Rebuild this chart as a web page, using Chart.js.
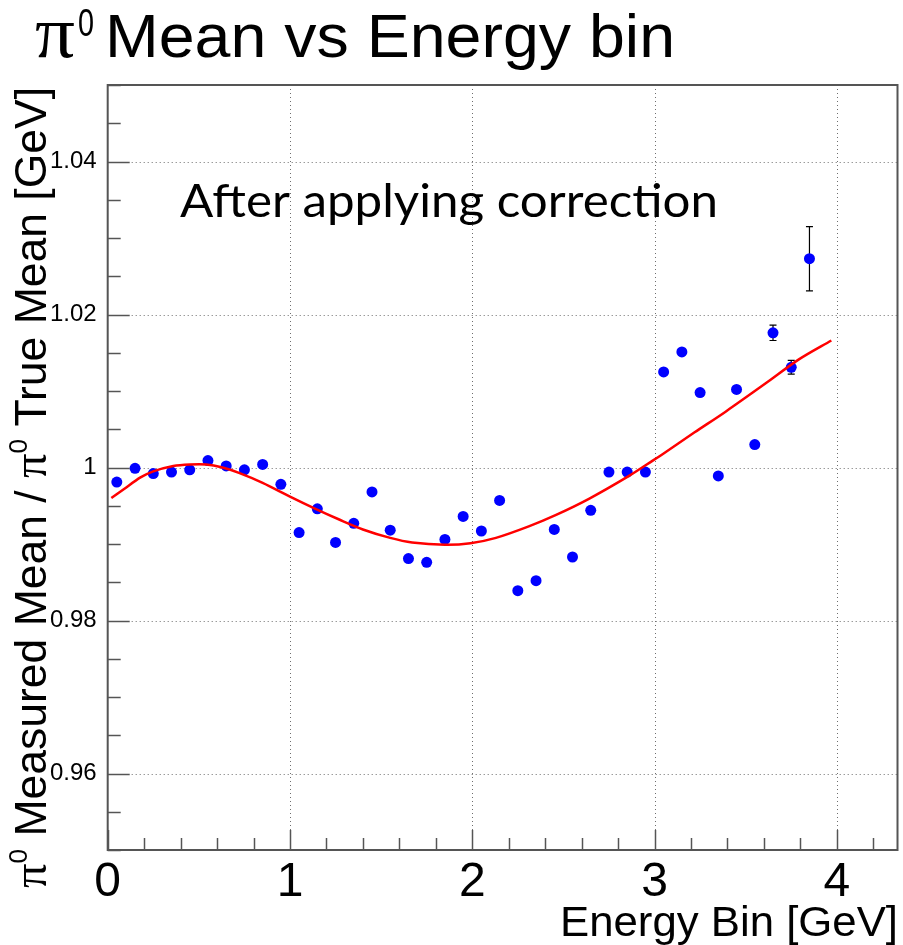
<!DOCTYPE html>
<html>
<head>
<meta charset="utf-8">
<script src="https://cdn.jsdelivr.net/npm/chart.js@4.4.0/dist/chart.umd.min.js"></script>
<style>
  html, body { margin: 0; padding: 0; background: #ffffff; }
  canvas { display: block; }
</style>
</head>
<body>
<canvas id="chart" width="903" height="945"></canvas>
<script>
// Energy bin centres [GeV]
const binCenters = [0.05, 0.15, 0.25, 0.35, 0.45, 0.55, 0.65, 0.75, 0.85, 0.95,
                    1.05, 1.15, 1.25, 1.35, 1.45, 1.55, 1.65, 1.75, 1.85, 1.95,
                    2.05, 2.15, 2.25, 2.35, 2.45, 2.55, 2.65, 2.75, 2.85, 2.95,
                    3.05, 3.15, 3.25, 3.35, 3.45, 3.55, 3.65, 3.75, 3.85];
// Measured mean / true mean per bin
const meanRatio = [0.9981, 0.9999, 0.9992, 0.9994, 0.9997, 1.0009, 1.0002, 0.9997, 1.0004, 0.9978,
                   0.9915, 0.9946, 0.9902, 0.9927, 0.9968, 0.9918, 0.9881, 0.9876, 0.9906, 0.9936,
                   0.9917, 0.9957, 0.9839, 0.9852, 0.9919, 0.9883, 0.9944, 0.9994, 0.9994, 0.9994,
                   1.0125, 1.0151, 1.0098, 0.9989, 1.0102, 1.0030, 1.0176, 1.0131, 1.0273];
// Statistical error per bin
const meanRatioErr = [0, 0, 0, 0, 0, 0, 0, 0, 0, 0,
                      0, 0, 0, 0, 0, 0, 0, 0, 0, 0,
                      0, 0, 0, 0, 0, 0, 0, 0, 0, 0,
                      0, 0, 0, 0, 0, 0, 0.0010, 0.0009, 0.0042];
// Fitted function sampled along the energy axis
const fitEnergy = [0.02, 0.09, 0.18, 0.25, 0.36, 0.45, 0.54, 0.63, 0.72, 0.85,
                   1.00, 1.14, 1.27, 1.40, 1.55, 1.67, 1.85, 1.99, 2.13, 2.31,
                   2.46, 2.64, 2.86, 2.99, 3.06, 3.22, 3.39, 3.61, 3.79, 3.97];
const fitRatio = [0.9960, 0.9972, 0.9987, 0.9995, 1.0002, 1.0004, 1.0004, 1.0000, 0.9993, 0.9980,
                  0.9962, 0.9946, 0.9932, 0.9919, 0.9908, 0.9902, 0.9899, 0.9901, 0.9908, 0.9923,
                  0.9938, 0.9959, 0.9989, 1.0009, 1.0020, 1.0046, 1.0073, 1.0110, 1.0141, 1.0166];

const xTickValues = [0, 1, 2, 3, 4];
const xTickLabels = ['0', '1', '2', '3', '4'];
const yTickValues = [0.96, 0.98, 1, 1.02, 1.04];
const yTickLabels = ['0.96', '0.98', '1', '1.02', '1.04'];

const X_MIN = 0, X_MAX = 4.333, Y_MIN = 0.95, Y_MAX = 1.05;

const SANS = '"Liberation Sans", Arial, Helvetica, sans-serif';
const SERIF = '"Liberation Serif", "Times New Roman", serif';

// draw text squeezed/stretched horizontally to a given width
function fitText(ctx, text, x, y, width, align) {
  const w = ctx.measureText(text).width;
  const sx = width / w;
  ctx.save();
  ctx.translate(x, y);
  ctx.scale(sx, 1);
  ctx.textAlign = 'left';
  ctx.fillText(text, align === 'right' ? -w : 0, 0);
  ctx.restore();
}

const axisDecor = {
  id: 'axisDecor',
  beforeDatasetsDraw(chart) {
    const { ctx, chartArea: a, scales: { x, y } } = chart;
    ctx.save();
    // dotted grid at labelled ticks
    ctx.strokeStyle = '#6e6e6e';
    ctx.lineWidth = 1;
    ctx.setLineDash([1, 3]);
    xTickValues.forEach(v => {
      if (v <= X_MIN) return;
      const px = Math.round(x.getPixelForValue(v)) + 0.5;
      ctx.beginPath(); ctx.moveTo(px, a.top); ctx.lineTo(px, a.bottom); ctx.stroke();
    });
    yTickValues.forEach(v => {
      const py = Math.round(y.getPixelForValue(v)) + 0.5;
      ctx.beginPath(); ctx.moveTo(a.left, py); ctx.lineTo(a.right, py); ctx.stroke();
    });
    ctx.setLineDash([]);
    // error bars with small end caps
    ctx.strokeStyle = '#000000';
    ctx.lineWidth = 1.2;
    binCenters.forEach((e, i) => {
      const err = meanRatioErr[i];
      if (!err) return;
      const px = x.getPixelForValue(e);
      const y1 = y.getPixelForValue(meanRatio[i] + err);
      const y2 = y.getPixelForValue(meanRatio[i] - err);
      ctx.beginPath();
      ctx.moveTo(px, y1); ctx.lineTo(px, y2);
      ctx.moveTo(px - 3.5, y1); ctx.lineTo(px + 3.5, y1);
      ctx.moveTo(px - 3.5, y2); ctx.lineTo(px + 3.5, y2);
      ctx.stroke();
    });
    ctx.restore();
  },
  afterDatasetsDraw(chart) {
    const { ctx, chartArea: a, scales: { x, y } } = chart;
    ctx.save();
    ctx.strokeStyle = '#555555';
    ctx.lineWidth = 2;
    ctx.strokeRect(a.left, a.top, a.right - a.left, a.bottom - a.top);
    ctx.lineWidth = 1.5;
    // x ticks: major every 1, minor every 0.2
    for (let k = 0; k * 0.2 <= X_MAX + 1e-9; k++) {
      const v = k * 0.2;
      const px = Math.round(x.getPixelForValue(v)) + 0.5;
      const len = (k % 5 === 0) ? 20 : 12;
      ctx.beginPath(); ctx.moveTo(px, a.bottom); ctx.lineTo(px, a.bottom - len); ctx.stroke();
    }
    // y ticks: major at labels, minor every 0.005
    for (let k = 0; k <= 20; k++) {
      const v = Y_MIN + k * 0.005;
      const major = yTickValues.some(t => Math.abs(t - v) < 1e-6);
      const py = Math.round(y.getPixelForValue(v)) + 0.5;
      const len = major ? 22 : 13;
      ctx.beginPath(); ctx.moveTo(a.left, py); ctx.lineTo(a.left + len, py); ctx.stroke();
    }
    ctx.restore();
  },
  afterDraw(chart) {
    const { ctx } = chart;
    ctx.save();
    ctx.fillStyle = '#000000';
    ctx.textBaseline = 'alphabetic';

    // main title
    ctx.font = `74px ${SERIF}`;
    fitText(ctx, 'π', 35, 57, 40);
    ctx.font = `38px ${SANS}`;
    fitText(ctx, '0', 78, 36, 16);
    ctx.font = `62px ${SANS}`;
    fitText(ctx, 'Mean vs Energy bin', 105, 57, 570);

    // annotation
    ctx.font = `46px Lato, "Open Sans", sans-serif`;
    fitText(ctx, 'After applying correction', 180, 217, 538);

    // x axis title
    ctx.font = `42px ${SANS}`;
    fitText(ctx, 'Energy Bin [GeV]', 898, 936, 338, 'right');

    // y axis title, rotated, right-aligned to the top of the frame
    const parts = [
      { t: 'π', font: `48px ${SERIF}`, dy: 0 },
      { t: '0', font: `26px ${SANS}`, dy: -19 },
      { t: ' Measured Mean / ', font: `44px ${SANS}`, dy: 0 },
      { t: 'π', font: `48px ${SERIF}`, dy: 0 },
      { t: '0', font: `26px ${SANS}`, dy: -19 },
      { t: ' True Mean [GeV]', font: `44px ${SANS}`, dy: 0 }
    ];
    let total = 0;
    parts.forEach(p => { ctx.font = p.font; p.w = ctx.measureText(p.t).width; total += p.w; });
    const span = 888 - 87;
    const sx = span / total;
    ctx.translate(46, 888);
    ctx.rotate(-Math.PI / 2);
    ctx.scale(sx, 1);
    let pos = 0;
    parts.forEach(p => { ctx.font = p.font; ctx.fillText(p.t, pos, p.dy); pos += p.w; });
    ctx.restore();
  }
};

new Chart(document.getElementById('chart'), {
  type: 'scatter',
  data: {
    datasets: [
      {
        type: 'line',
        label: 'fit',
        data: fitEnergy.map((e, i) => ({ x: e, y: fitRatio[i] })),
        borderColor: '#ff0000',
        borderWidth: 2.5,
        pointRadius: 0,
        tension: 0.3,
        fill: false,
        order: 1
      },
      {
        type: 'scatter',
        label: 'ratio',
        data: binCenters.map((e, i) => ({ x: e, y: meanRatio[i] })),
        backgroundColor: '#0000ff',
        borderColor: '#0000ff',
        borderWidth: 0,
        pointRadius: 5.5,
        order: 2
      }
    ]
  },
  options: {
    responsive: false,
    animation: false,
    layout: { padding: { top: 85, right: 3.7, bottom: 0, left: 0 } },
    plugins: { legend: { display: false }, tooltip: { enabled: false }, title: { display: false } },
    scales: {
      x: {
        type: 'linear',
        min: X_MIN, max: X_MAX,
        afterBuildTicks(scale) { scale.ticks = xTickValues.map(v => ({ value: v })); },
        afterFit(scale) { scale.height = 95; },
        grid: { display: false, drawTicks: false },
        border: { display: false },
        ticks: {
          autoSkip: false, maxRotation: 0, padding: 4,
          color: '#000000',
          font: { family: SANS, size: 48 },
          callback: (v) => { const i = xTickValues.indexOf(v); return i >= 0 ? xTickLabels[i] : ''; }
        }
      },
      y: {
        type: 'linear',
        min: Y_MIN, max: Y_MAX,
        afterBuildTicks(scale) { scale.ticks = yTickValues.map(v => ({ value: v })); },
        afterFit(scale) { scale.width = 107.7; },
        grid: { display: false, drawTicks: false },
        border: { display: false },
        ticks: {
          autoSkip: false, padding: 11,
          color: '#000000',
          font: { family: SANS, size: 24 },
          callback: (v) => { const i = yTickValues.findIndex(t => Math.abs(t - v) < 1e-9); return i >= 0 ? yTickLabels[i] : ''; }
        }
      }
    }
  },
  plugins: [axisDecor]
});
</script>
</body>
</html>
